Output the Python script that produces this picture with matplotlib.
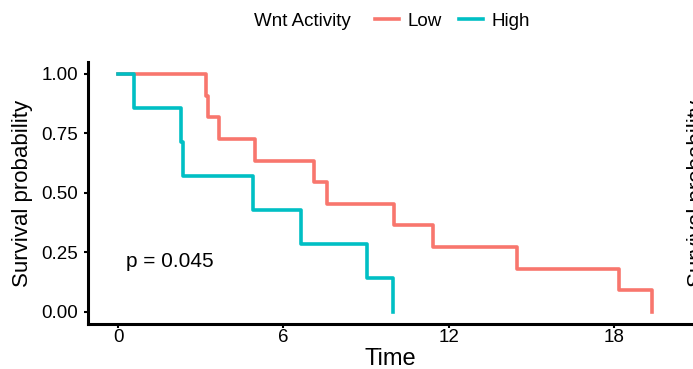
import matplotlib
matplotlib.use("Agg")
import matplotlib.pyplot as plt

# Kaplan-Meier steps
low_times = [0, 3.2, 3.25, 3.68, 4.96, 7.1, 7.59, 10.0, 11.43, 14.47, 18.17, 19.37]
low_surv = [1.0, 0.909, 0.818, 0.727, 0.636, 0.545, 0.455, 0.364, 0.273, 0.182, 0.091, 0.0]
high_times = [0, 0.58, 2.28, 2.37, 4.88, 6.64, 9.02, 9.96]
high_surv = [1.0, 0.857, 0.714, 0.571, 0.429, 0.286, 0.143, 0.0]

x_ticks = [0, 6, 12, 18]
y_ticks = [0.0, 0.25, 0.5, 0.75, 1.0]
y_labels = ["0.00", "0.25", "0.50", "0.75", "1.00"]
p_text = "p = 0.045"

plt.rcParams['font.family'] = ['Liberation Sans', 'DejaVu Sans']

fig = plt.figure(figsize=(6.93, 3.69), dpi=100)
ax = fig.add_axes([87.5 / 693, 1 - 323.9 / 369, 1 - 87.5 / 693, (323.9 - 62) / 369])

low_line, = ax.step(low_times, low_surv, where='post', color='#F8766D', lw=2.6, label='Low')
high_line, = ax.step(high_times, high_surv, where='post', color='#00BFC4', lw=2.6, label='High')

ax.set_xlim(-1.107, 20.86)
ax.set_ylim(-0.05, 1.05)
ax.set_xticks(x_ticks)
ax.set_yticks(y_ticks)
ax.set_yticklabels(y_labels)

for s in ['top', 'right']:
    ax.spines[s].set_visible(False)
for s in ['left', 'bottom']:
    ax.spines[s].set_linewidth(2.2)
ax.tick_params(axis='both', length=3, width=1.5, labelsize=13.5, color='black')
ax.tick_params(axis='y', pad=4)
ax.tick_params(axis='x', pad=1)

ax.set_ylabel("Survival probability", fontsize=16, labelpad=6)
ax.set_xlabel("Time", fontsize=17, labelpad=1)

ax.text(0.3, 0.21, p_text, fontsize=15, va='center', ha='left')

# legend on top, ggplot style
fig.text(254 / 693, 1 - 21 / 369, "Wnt Activity", fontsize=13.5, va='center', ha='left')
fig.legend(handles=[low_line, high_line], labels=['Low', 'High'], ncol=2, frameon=False,
           fontsize=13.5, handlelength=1.3, handletextpad=0.45, columnspacing=0.9,
           loc='center left', bbox_to_anchor=(358 / 693, 1 - 21 / 369))

# clipped label of the neighbouring panel
fig.text(697 / 693, 1 - 193 / 369, "Survival probability", fontsize=16, rotation=90,
         va='center', ha='center')

fig.savefig("out.png", dpi=100)
